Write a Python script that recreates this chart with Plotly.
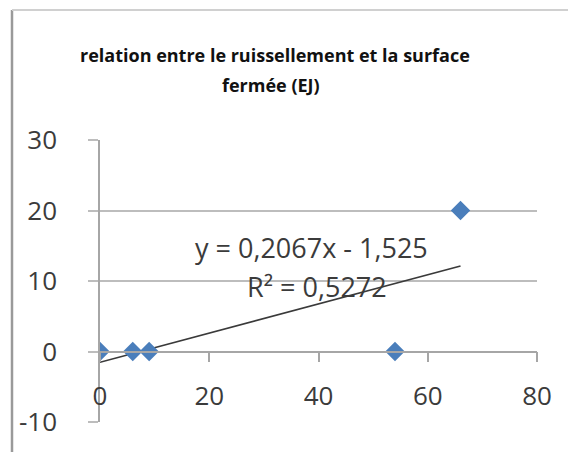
import plotly.graph_objects as go

# ---- data ----
surface_fermee = [0, 6, 9, 54, 66]
ruissellement = [0, 0, 0, 0, 20]
trend_slope = 0.2067
trend_intercept = -1.525
r_squared = 0.5272
title_lines = ["relation entre le ruissellement et la surface", "fermée (EJ)"]
x_ticks = [0, 20, 40, 60, 80]
x_tick_labels = ["0", "20", "40", "60", "80"]
y_ticks = [-10, 0, 10, 20, 30]
y_tick_labels = ["-10", "0", "10", "20", "30"]

OFF = 8  # default page body margin
W, H = 576 - OFF, 452 - OFF
ML, MT = 100 - OFF, 140 - OFF
PW, PH = 437, 282
MR = W - ML - PW
MB = H - MT - PH

def px_to_paper_x(px):
    return (px - OFF - ML) / PW

def px_to_paper_y(py):
    return (H - MB - (py - OFF)) / PH

fig = go.Figure()

# trendline from fitted coefficients over the data range
tx = [min(surface_fermee), max(surface_fermee)]
ty = [trend_slope * v + trend_intercept for v in tx]
fig.add_trace(go.Scatter(x=tx, y=ty, mode="lines",
                         line=dict(color="#3a3a3a", width=1.6),
                         hoverinfo="skip", showlegend=False))

fig.add_trace(go.Scatter(x=surface_fermee, y=ruissellement, mode="markers",
                         marker=dict(symbol="diamond", size=15, color="#4a7ebb",
                                     line=dict(width=0)),
                         showlegend=False))

ymin, ymax = min(y_ticks), max(y_ticks)
zero_pos = (0 - ymin) / (ymax - ymin)

tick_font = dict(family="Open Sans", size=26, color="#3b3b3b")

fig.update_layout(
    width=W, height=H,
    margin=dict(l=ML, r=MR, t=MT, b=MB),
    paper_bgcolor="white", plot_bgcolor="white",
    font=dict(family="Open Sans", color="#3b3b3b", size=26),
    xaxis=dict(range=[min(x_ticks), max(x_ticks)], tickvals=x_ticks,
               ticktext=x_tick_labels,
               anchor="free", position=zero_pos,
               showgrid=False, zeroline=False,
               showline=True, linecolor="#a6a6a6", linewidth=1.5,
               ticks="outside", ticklen=10, tickcolor="#a6a6a6", tickwidth=1.5,
               ticklabelstandoff=12, tickfont=tick_font),
    yaxis=dict(range=[ymin, ymax], tickvals=y_ticks, ticktext=y_tick_labels,
               showgrid=True, gridcolor="#bdbdbd", gridwidth=1.5,
               zeroline=False,
               showline=True, linecolor="#a6a6a6", linewidth=1.5,
               ticks="outside", ticklen=10, tickcolor="#bdbdbd", tickwidth=1.5,
               ticklabelstandoff=26, tickfont=tick_font),
    shapes=[
        dict(type="line", xref="paper", yref="paper",
             x0=px_to_paper_x(12), x1=px_to_paper_x(12),
             y0=px_to_paper_y(10), y1=px_to_paper_y(470),
             line=dict(color="#9a9a9a", width=2.5)),
        dict(type="line", xref="paper", yref="paper",
             x0=px_to_paper_x(12), x1=px_to_paper_x(600),
             y0=px_to_paper_y(10), y1=px_to_paper_y(10),
             line=dict(color="#d0d0d0", width=2)),
    ],
    annotations=[
        dict(text=title_lines[0], xref="paper", yref="paper",
             x=px_to_paper_x(275), y=px_to_paper_y(55), showarrow=False,
             xanchor="center", yanchor="middle",
             font=dict(family="Open Sans", size=18, color="#111111", weight="bold")),
        dict(text=title_lines[1], xref="paper", yref="paper",
             x=px_to_paper_x(271), y=px_to_paper_y(85), showarrow=False,
             xanchor="center", yanchor="middle",
             font=dict(family="Open Sans", size=18, color="#111111", weight="bold")),
        dict(text="y = " + f"{trend_slope:.4f}".replace(".", ",") + "x - "
                  + f"{-trend_intercept:.3f}".replace(".", ","),
             xref="paper", yref="paper",
             x=px_to_paper_x(311), y=px_to_paper_y(247), showarrow=False,
             xanchor="center", yanchor="middle",
             font=dict(family="Open Sans", size=27, color="#3b3b3b")),
        dict(text="R² = " + f"{r_squared:.4f}".replace(".", ","),
             xref="paper", yref="paper",
             x=px_to_paper_x(317), y=px_to_paper_y(286), showarrow=False,
             xanchor="center", yanchor="middle",
             font=dict(family="Open Sans", size=27, color="#3b3b3b")),
    ],
)

fig.write_html("out.html")
